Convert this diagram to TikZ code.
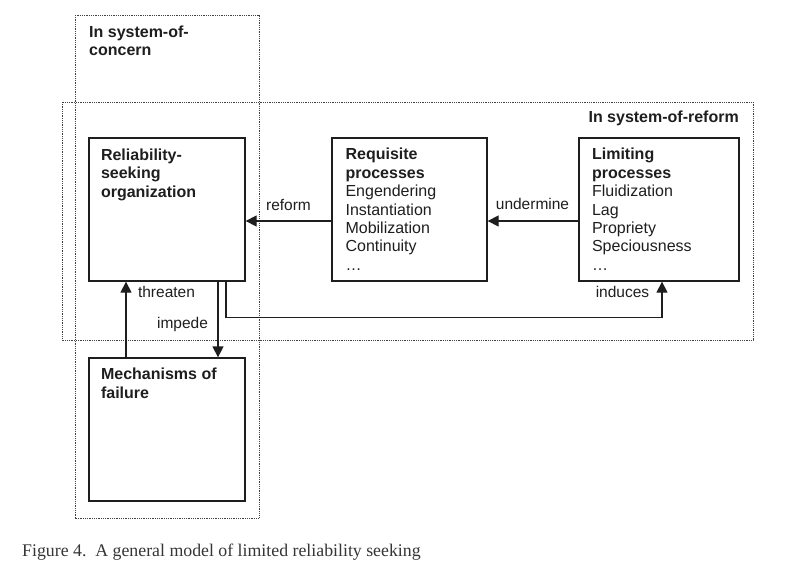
\documentclass[tikz,border=0pt]{standalone}
\usepackage{fontspec}
\setmainfont{Liberation Sans}
\newfontfamily\capfont{Liberation Serif}
\usetikzlibrary{arrows.meta}
\definecolor{ink}{HTML}{1E1E1E}
\tikzset{
  every node/.style={text=ink},
  boxnode/.style={draw=ink, line width=1.3pt, inner sep=0pt},
  zone/.style={draw=ink!85, line width=0.7pt, dash pattern=on 0.9pt off 0.9pt},
  boxtext/.style={anchor=north west, inner sep=0pt, align=left, font=\fontsize{16}{18.4}\selectfont},
  lbl/.style={anchor=base, inner sep=0pt, font=\fontsize{15.5}{18}\selectfont},
  conn/.style={draw=ink, line width=1.3pt},
  arr/.style={conn, -{Triangle[length=11pt,width=11pt]}},
}
\begin{document}
\begin{tikzpicture}[x=1pt,y=-1pt]
\useasboundingbox (0,0) rectangle (801,570);
% zones
\draw[zone] (75,15) rectangle (259,518);
\draw[zone] (62,102) rectangle (753,340);
\node[anchor=base west, inner sep=0pt, align=left, font=\fontsize{16}{18.4}\selectfont\bfseries] (concern) at (89,55.7) {In system-of-\\concern};
\node[anchor=base east, inner sep=0pt, font=\fontsize{16}{18.4}\selectfont\bfseries] (reformzone) at (739,122.5) {In system-of-reform};
% boxes
\node[boxnode, minimum width=156pt, minimum height=143pt] (rel) at (167,209.5) {};
\node[boxnode, minimum width=155pt, minimum height=143pt] (req) at (409.5,209.5) {};
\node[boxnode, minimum width=160pt, minimum height=143pt] (lim) at (659,209.5) {};
\node[boxnode, minimum width=156pt, minimum height=143pt] (mech) at (167,429.5) {};
% box texts
\node[boxtext] (relt) at ([xshift=12.5,yshift=-11.4]rel.north west) {\bfseries Reliability-\\\bfseries seeking\\\bfseries organization};
\node[boxtext] (reqt) at ([xshift=14,yshift=-10.8]req.north west) {\bfseries Requisite\\\bfseries processes\\Engendering\\Instantiation\\Mobilization\\Continuity\\\ldots};
\node[boxtext] (limt) at ([xshift=13.5,yshift=-10.8]lim.north west) {\bfseries Limiting\\\bfseries processes\\Fluidization\\Lag\\Propriety\\Speciousness\\\ldots};
\node[boxtext] (mecht) at ([xshift=12.5,yshift=-10.6]mech.north west) {\bfseries Mechanisms of\\\bfseries failure};
% connectors
\draw[arr] ([yshift=-11.5]req.west) -- ([yshift=-11.5]rel.east);
\draw[arr] ([yshift=-11.5]lim.west) -- ([yshift=-11.5]req.east);
\draw[arr] ([xshift=-41]mech.north) -- ([xshift=-41]rel.south);
\draw[arr] ([xshift=51]rel.south) -- ([xshift=51]mech.north);
\draw[arr] ([xshift=59]rel.south) -- ++(0,36) -| ([xshift=3]lim.south);
% labels
\node[lbl] (lreform) at (288.5,210) {reform};
\node[lbl] (lunder) at (532.5,209.5) {undermine};
\node[lbl] (lthreat) at (166.5,297) {threaten};
\node[lbl] (limpede) at (182.5,328) {impede};
\node[lbl] (linduce) at (622.5,297) {induces};
% caption
\node[anchor=base west, inner sep=0pt, text=ink!90, font=\capfont\fontsize{17.8}{20}\selectfont] (caption) at (22,556) {Figure 4.\ \ A general model of limited reliability seeking};
\end{tikzpicture}
\end{document}
